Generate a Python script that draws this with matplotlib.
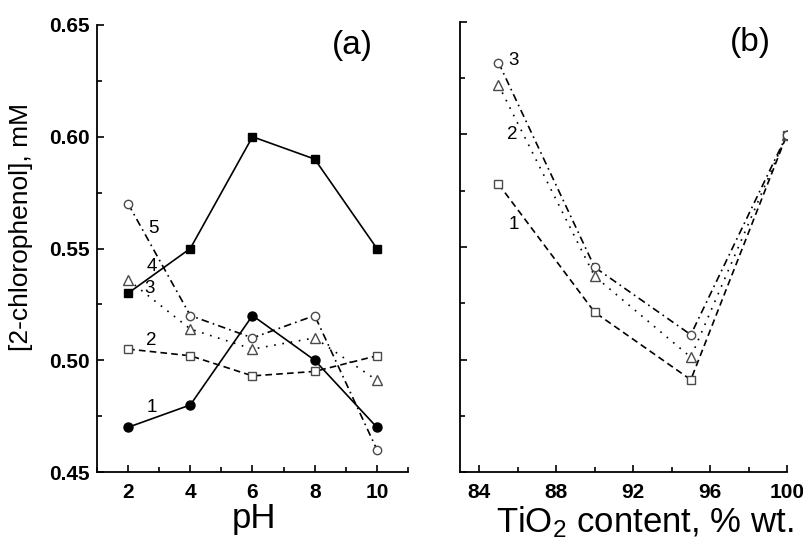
import matplotlib
matplotlib.use("Agg")
import matplotlib.pyplot as plt
from matplotlib.ticker import MultipleLocator

plt.rcParams['font.family'] = ['Liberation Sans', 'DejaVu Sans']
plt.rcParams['mathtext.fontset'] = 'custom'
plt.rcParams['mathtext.rm'] = 'Liberation Sans'
plt.rcParams['mathtext.it'] = 'Liberation Sans:italic'
plt.rcParams['mathtext.bf'] = 'Liberation Sans:bold'

# Panel (a): concentration vs pH
ph = [2, 4, 6, 8, 10]
a_filled_circle = [0.470, 0.480, 0.520, 0.500, 0.470]   # 1
a_open_square = [0.505, 0.502, 0.493, 0.495, 0.502]     # 2
a_filled_square = [0.530, 0.550, 0.600, 0.590, 0.550]
a_triangle = [0.536, 0.514, 0.505, 0.510, 0.491]
a_open_circle = [0.570, 0.520, 0.510, 0.520, 0.460]     # 5

# Panel (b): concentration vs TiO2 content
tio2 = [85, 90, 95, 100]
b_square = [0.578, 0.521, 0.491, 0.600]    # 1
b_triangle = [0.622, 0.537, 0.501, 0.600]  # 2
b_circle = [0.632, 0.541, 0.511, 0.600]    # 3

W, H = 804, 544
fig = plt.figure(figsize=(W / 100, H / 100), dpi=100)
ax1 = fig.add_axes([97 / W, 1 - 472 / H, 311 / W, 447 / H])
ax2 = fig.add_axes([460 / W, 1 - 472 / H, 327 / W, 450 / H])

lw = 1.2
ms = 6
mec_open = '#4a4a4a'

dashed = (0, (4, 2.5))
dashdot = (0, (4.5, 2.5, 1, 2.5))
dotted = (0, (1, 4))

# Panel (a)
ax1.plot(ph, a_filled_square, '-', color='black', lw=lw, marker='s', ms=ms, mfc='black', mec='black')
ax1.plot(ph, a_filled_circle, '-', color='black', lw=lw, marker='o', ms=ms + 0.5, mfc='black', mec='black')
ax1.plot(ph, a_open_square, linestyle=dashed, color='black', lw=lw, marker='s', ms=ms - 0.5, mfc='white', mec=mec_open, mew=1)
ax1.plot(ph, a_triangle, linestyle=dotted, color='black', lw=lw, marker='^', ms=ms + 1, mfc='white', mec=mec_open, mew=1)
ax1.plot(ph, a_open_circle, linestyle=dashdot, color='black', lw=lw, marker='o', ms=ms, mfc='white', mec=mec_open, mew=1)

ax1.set_xlim(1, 11)
ax1.set_ylim(0.45, 0.65)
ax1.xaxis.set_major_locator(MultipleLocator(2))
ax1.xaxis.set_minor_locator(MultipleLocator(1))
ax1.set_yticks([0.45, 0.50, 0.55, 0.60, 0.65])
ax1.set_yticklabels(['0.45', '0.50', '0.55', '0.60', '0.65'])
ax1.yaxis.set_minor_locator(MultipleLocator(0.025))

ax1.text(2.77, 0.479, '1', fontsize=13.5, ha='center', va='center')
ax1.text(2.74, 0.509, '2', fontsize=13.5, ha='center', va='center')
ax1.text(2.70, 0.532, '3', fontsize=13.5, ha='center', va='center')
ax1.text(2.77, 0.542, '4', fontsize=13.5, ha='center', va='center')
ax1.text(2.80, 0.559, '5', fontsize=13.5, ha='center', va='center')
ax1.text(9.2, 0.641, '(a)', fontsize=24, ha='center', va='center')

ax1.set_xlabel('pH', fontsize=25)
ax1.xaxis.set_label_coords(0.505, -(528 - 472) / 447)
ax1.xaxis.label.set_verticalalignment('baseline')
ax1.set_ylabel('[2-chlorophenol], mM', fontsize=19)
ax1.yaxis.set_label_coords(-(97 - 21) / 311, 0.548)
ax1.yaxis.label.set_verticalalignment('center')

# Panel (b)
ax2.plot(tio2, b_square, linestyle=dashed, color='black', lw=lw, marker='s', ms=ms - 0.5, mfc='white', mec=mec_open, mew=1)
ax2.plot(tio2, b_triangle, linestyle=dotted, color='black', lw=lw, marker='^', ms=ms + 1, mfc='white', mec=mec_open, mew=1)
ax2.plot(tio2, b_circle, linestyle=dashdot, color='black', lw=lw, marker='o', ms=ms, mfc='white', mec=mec_open, mew=1)

ax2.set_xlim(83, 100)
ax2.set_ylim(0.45, 0.65)
ax2.set_xticks([84, 88, 92, 96, 100])
ax2.xaxis.set_minor_locator(MultipleLocator(2))
ax2.yaxis.set_major_locator(MultipleLocator(0.05))
ax2.yaxis.set_minor_locator(MultipleLocator(0.025))
ax2.tick_params(axis='y', which='both', labelleft=False)

ax2.text(85.8, 0.633, '3', fontsize=13.5, ha='center', va='center')
ax2.text(85.7, 0.600, '2', fontsize=13.5, ha='center', va='center')
ax2.text(85.8, 0.560, '1', fontsize=13.5, ha='center', va='center')
ax2.text(98.1, 0.641, '(b)', fontsize=24, ha='center', va='center')

ax2.set_xlabel('TiO$_2$ content, % wt.', fontsize=25)
ax2.xaxis.set_label_coords((645 - 460) / 327, -(532 - 472) / 450)
ax2.xaxis.label.set_verticalalignment('baseline')

for ax in (ax1, ax2):
    for s in ('top', 'right'):
        ax.spines[s].set_visible(False)
    for s in ('left', 'bottom'):
        ax.spines[s].set_linewidth(1.3)
    ax.tick_params(which='major', direction='in', length=5, width=1.2, labelsize=15)
    ax.tick_params(which='minor', direction='in', length=3.5, width=1.2)
    ax.tick_params(axis='x', which='major', pad=8)
    ax.tick_params(axis='y', which='major', pad=5)
    for lab in ax.get_xticklabels() + ax.get_yticklabels():
        lab.set_fontweight('bold')

fig.savefig('out.png', dpi=100)
